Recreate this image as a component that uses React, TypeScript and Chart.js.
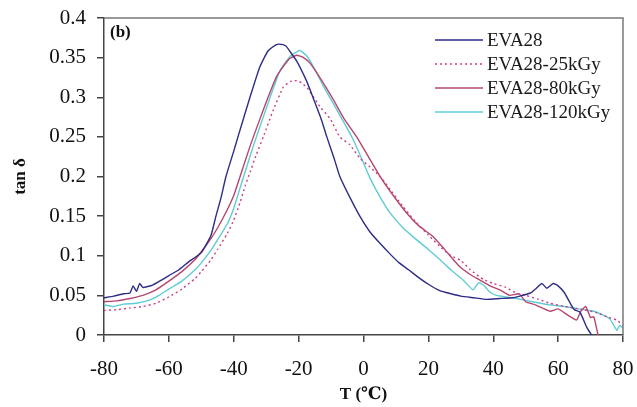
import React, { useEffect, useRef } from "react";
import { Chart, registerables } from "chart.js";

Chart.register(...registerables);

const seriesLabels = ["EVA28", "EVA28-25kGy", "EVA28-80kGy", "EVA28-120kGy"];
const seriesColors = ["#2e2d88", "#cc4186", "#b5476f", "#5fcbd6"];
const seriesDashes: number[][] = [[], [2, 3], [], []];

const xTicks = [-80, -60, -40, -20, 0, 20, 40, 60, 80];
const yTicks = [0, 0.05, 0.1, 0.15, 0.2, 0.25, 0.3, 0.35, 0.4];

const eva28T = [-80,-77,-74,-72,-71,-70,-69,-68,-65,-62,-60,-57,-54,-50,-47,-45.5,-44,-42.4,-40,-38.7,-35,-32,-29.5,-27,-26,-24,-22.7,-20.5,-17.5,-15.6,-13,-11.3,-9,-7.3,-4,-1,2,5,8,11,14,16.5,20,23.5,27,30,34,38,42,46,49,51.5,53,55,56.5,58.5,60,62,64,65,66.7,68.8,70.3];
const eva28V = [0.047,0.049,0.052,0.053,0.062,0.055,0.065,0.060,0.063,0.070,0.075,0.082,0.092,0.104,0.126,0.150,0.172,0.200,0.232,0.250,0.300,0.338,0.358,0.366,0.367,0.365,0.358,0.345,0.320,0.300,0.272,0.250,0.222,0.200,0.172,0.149,0.130,0.116,0.103,0.091,0.082,0.074,0.064,0.056,0.052,0.049,0.047,0.045,0.046,0.047,0.050,0.053,0.058,0.065,0.059,0.065,0.062,0.053,0.038,0.032,0.029,0.010,0.000];

const kGy25T = [-80,-76,-72,-68,-64,-60,-56,-52,-50,-47,-45,-42,-40,-38,-36.5,-35,-33,-30.9,-27.8,-24.7,-22.5,-20.6,-19,-17,-13.4,-10.3,-7.3,-4.2,-1.1,2,5.1,8,12,16,20,24,27,30,33,37,40,44,47,50,54,57.5,62,67.8,72,75,78,80];
const kGy25V = [0.031,0.032,0.034,0.036,0.040,0.048,0.058,0.071,0.080,0.095,0.108,0.128,0.145,0.168,0.188,0.205,0.228,0.250,0.284,0.313,0.320,0.321,0.318,0.310,0.288,0.273,0.250,0.240,0.223,0.212,0.200,0.185,0.163,0.143,0.126,0.110,0.100,0.094,0.082,0.070,0.065,0.060,0.053,0.050,0.045,0.040,0.036,0.032,0.028,0.023,0.019,0.012];

const kGy80T = [-80,-76,-72,-68,-64,-60,-56,-52,-50,-47,-45,-42,-40,-38.6,-35,-30.9,-26.8,-23,-20.6,-18.5,-16.5,-13,-9.3,-6,-2.1,1.5,5.1,9,13.3,17,21.5,25,29.7,33,36,39,42,45,48,50,53,57.5,60,63,65.7,67,68.5,70,71,72.3];
const kGy80V = [0.042,0.043,0.046,0.050,0.057,0.068,0.080,0.095,0.105,0.122,0.135,0.158,0.176,0.193,0.238,0.284,0.326,0.348,0.353,0.350,0.343,0.322,0.297,0.273,0.250,0.225,0.200,0.177,0.154,0.138,0.124,0.108,0.086,0.076,0.069,0.062,0.057,0.050,0.052,0.042,0.038,0.030,0.033,0.025,0.019,0.030,0.036,0.022,0.023,0.000];

const kGy120T = [-80,-77,-74,-70,-66,-63,-60,-56,-52,-50,-47,-45,-42,-40,-37.1,-34,-29.8,-25.7,-22.5,-19.6,-17.5,-15.5,-12.5,-9.3,-6,-3.1,0,2,5,8.2,12,16.4,20,23.6,27,30.8,33.8,35.5,37,39,41,44,47.2,52,57.5,62,67.8,71,73.9,76,78.1,79,80];
const kGy120V = [0.038,0.036,0.039,0.040,0.044,0.050,0.058,0.068,0.082,0.091,0.107,0.120,0.140,0.160,0.198,0.238,0.288,0.334,0.352,0.359,0.352,0.339,0.315,0.292,0.268,0.246,0.217,0.198,0.175,0.154,0.136,0.120,0.108,0.095,0.082,0.069,0.057,0.066,0.063,0.054,0.050,0.048,0.046,0.042,0.038,0.036,0.032,0.030,0.025,0.020,0.006,0.012,0.009];

const seriesT = [eva28T, kGy25T, kGy80T, kGy120T];
const seriesV = [eva28V, kGy25V, kGy80V, kGy120V];

const panelLabel = "(b)";
const xTitle = "T (\u2103)";
const yTitle = "tan \u03b4";

const SERIF = "'Liberation Serif', 'Times New Roman', 'DejaVu Serif', serif";

const framePlugin = {
  id: "frameAndLegend",
  afterDraw(chart: any) {
    const { ctx, chartArea } = chart;
    const { left, right, top, bottom } = chartArea;
    ctx.save();
    ctx.strokeStyle = "#7a7a7a";
    ctx.lineWidth = 1.5;
    ctx.beginPath();
    ctx.moveTo(left, top);
    ctx.lineTo(right, top);
    ctx.lineTo(right, bottom);
    ctx.stroke();

    ctx.fillStyle = "#111";
    ctx.font = `bold 17px ${SERIF}`;
    ctx.textBaseline = "middle";
    ctx.textAlign = "left";
    ctx.fillText(panelLabel, left + 6, top + 15);

    const lx0 = right - 188;
    const lx1 = right - 140;
    const tx = right - 136;
    const y0 = top + 22;
    const dy = 24;
    ctx.font = `19px ${SERIF}`;
    chart.data.datasets.forEach((ds: any, i: number) => {
      const y = y0 + i * dy;
      ctx.strokeStyle = ds.borderColor;
      ctx.lineWidth = 1.4;
      ctx.setLineDash(ds.borderDash || []);
      ctx.beginPath();
      ctx.moveTo(lx0, y);
      ctx.lineTo(lx1, y);
      ctx.stroke();
      ctx.setLineDash([]);
      ctx.fillStyle = "#1a1a1a";
      ctx.fillText(ds.label, tx, y + 1);
    });
    ctx.restore();
  },
};

export default function App() {
  const ref = useRef<HTMLCanvasElement | null>(null);

  useEffect(() => {
    if (!ref.current) return;
    const datasets = seriesLabels.map((label, i) => ({
      label,
      data: seriesT[i].map((t, j) => ({ x: t, y: seriesV[i][j] })),
      borderColor: seriesColors[i],
      backgroundColor: seriesColors[i],
      borderDash: seriesDashes[i],
      borderWidth: 1.4,
      pointRadius: 0,
      tension: 0.15,
      fill: false,
    }));

    const chart = new Chart(ref.current, {
      type: "line",
      data: { datasets },
      plugins: [framePlugin],
      options: {
        animation: false,
        responsive: false,
        maintainAspectRatio: false,
        layout: { padding: { top: 18, right: 14, left: 0, bottom: 0 } },
        plugins: {
          legend: { display: false },
          tooltip: { enabled: false },
        },
        scales: {
          x: {
            type: "linear",
            min: -80,
            max: 80,
            afterBuildTicks: (scale: any) => {
              scale.ticks = xTicks.map((v) => ({ value: v }));
            },
            afterFit: (scale: any) => {
              scale.height = 72;
              scale.paddingLeft = 0;
              scale.paddingRight = 0;
            },
            ticks: {
              color: "#111",
              font: { family: SERIF, size: 21 },
              padding: 15,
              maxRotation: 0,
              autoSkip: false,
              callback: (v: any) => String(v),
            },
            grid: {
              display: true,
              drawOnChartArea: false,
              drawTicks: true,
              tickLength: 7,
              color: "#444",
              lineWidth: 1.5,
            },
            border: { display: true, color: "#444", width: 1.5 },
            title: {
              display: true,
              text: xTitle,
              color: "#111",
              font: { family: SERIF, size: 17, weight: "bold" },
              padding: { top: 0, bottom: 2 },
            },
          },
          y: {
            type: "linear",
            min: 0,
            max: 0.4,
            afterBuildTicks: (scale: any) => {
              scale.ticks = yTicks.map((v) => ({ value: v }));
            },
            afterFit: (scale: any) => {
              scale.width = 104;
              scale.paddingTop = 0;
              scale.paddingBottom = 0;
            },
            ticks: {
              color: "#111",
              font: { family: SERIF, size: 21 },
              padding: 11,
              autoSkip: false,
              callback: (v: any) => String(parseFloat(Number(v).toFixed(2))),
            },
            grid: {
              display: true,
              drawOnChartArea: false,
              drawTicks: true,
              tickLength: 7,
              color: "#444",
              lineWidth: 1.5,
            },
            border: { display: true, color: "#444", width: 1.5 },
            title: {
              display: true,
              text: yTitle,
              color: "#111",
              font: { family: SERIF, size: 17, weight: "bold" },
              padding: { top: 10, bottom: 0 },
            },
          },
        },
      } as any,
    });
    return () => chart.destroy();
  }, []);

  return (
    <div style={{ position: "fixed", left: 0, top: 0, width: 637, height: 407, background: "#fff" }}>
      <canvas ref={ref} width={637} height={407} style={{ display: "block", width: 637, height: 407 }} />
    </div>
  );
}
